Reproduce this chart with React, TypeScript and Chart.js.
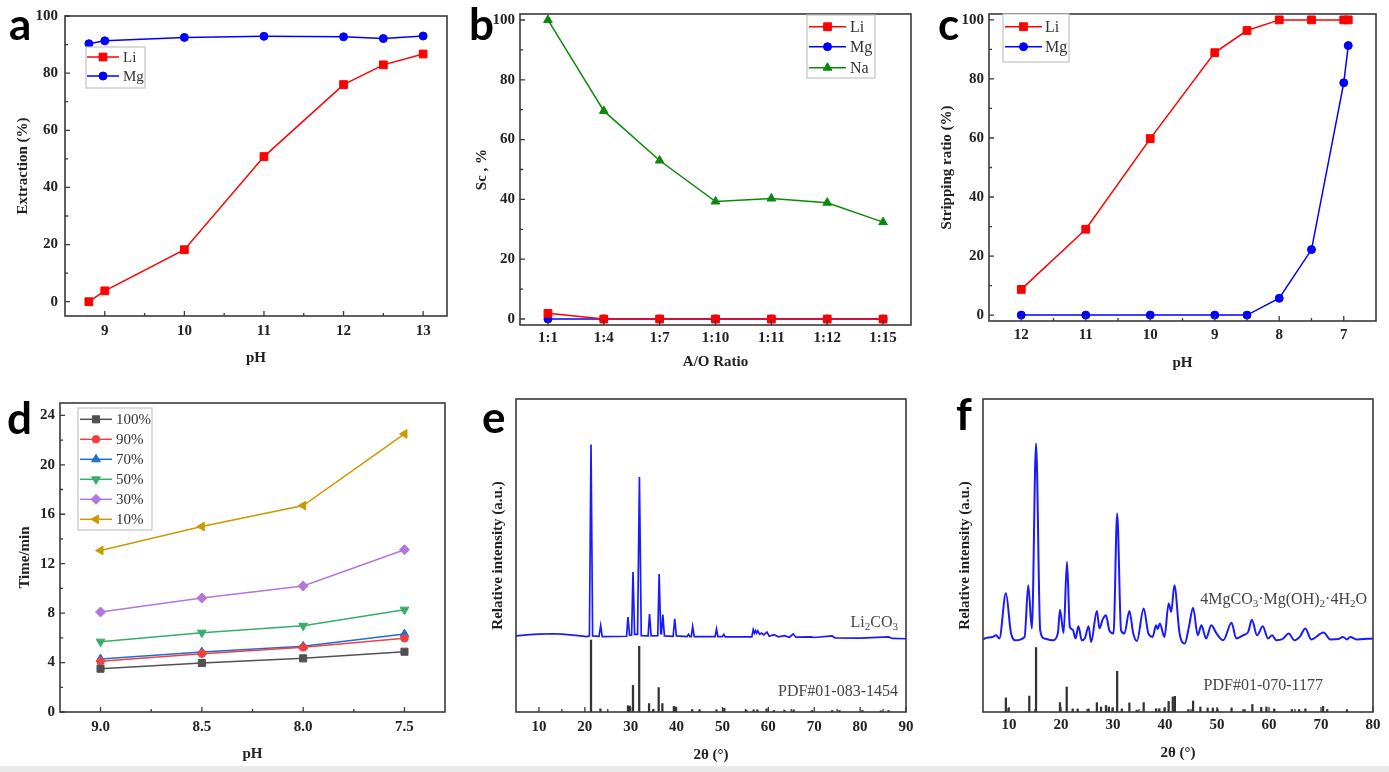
import React, { useEffect, useRef } from 'react';
import { Chart, registerables } from 'chart.js';
import { drawPoint } from 'chart.js/helpers';

Chart.register(...registerables);

// ---------------- DATA ----------------
// (a) extraction vs pH
const aPH = [8.8, 9, 10, 11, 12, 12.5, 13];
const aLi = [0, 3.8, 18.2, 50.8, 76, 82.9, 86.7];
const aMg = [90.3, 91.3, 92.5, 92.9, 92.7, 92.1, 93.0];
const aXTicks = [9, 10, 11, 12, 13];
const aXMinor = [9.5, 10.5, 11.5, 12.5];
const aYTicks = [0, 20, 40, 60, 80, 100];
const aYMinor = [10, 30, 50, 70, 90];

// (b) Sc vs A/O ratio
const bRatios = ['1:1', '1:4', '1:7', '1:10', '1:11', '1:12', '1:15'];
const bLi = [1.9, 0, 0, 0, 0, 0, 0];
const bMg = [0, 0, 0, 0, 0, 0, 0];
const bNa = [100, 69.6, 53.0, 39.3, 40.3, 38.9, 32.4];
const bYTicks = [0, 20, 40, 60, 80, 100];
const bYMinor = [10, 30, 50, 70, 90];

// (c) stripping ratio vs pH
const cPH = [12, 11, 10, 9, 8.5, 8, 7.5, 7, 6.93];
const cLi = [8.7, 29.1, 59.8, 88.9, 96.4, 100, 100, 100, 100];
const cMg = [0, 0, 0, 0, 0, 5.7, 22.2, 78.7, 91.3];
const cXTicks = [12, 11, 10, 9, 8, 7];
const cXMinor = [11.5, 10.5, 9.5, 8.5, 7.5];
const cYTicks = [0, 20, 40, 60, 80, 100];
const cYMinor = [10, 30, 50, 70, 90];

// (d) time vs pH
const dPH = [9.0, 8.5, 8.0, 7.5];
const d100 = [3.5, 3.96, 4.34, 4.88];
const d90 = [4.1, 4.72, 5.23, 5.96];
const d70 = [4.29, 4.85, 5.31, 6.31];
const d50 = [5.69, 6.42, 6.98, 8.28];
const d30 = [8.09, 9.22, 10.2, 13.13];
const d10 = [13.07, 15.0, 16.7, 22.5];
const dXTicks = [9.0, 8.5, 8.0, 7.5];
const dXMinor = [8.75, 8.25, 7.75];
const dYTicks = [0, 4, 8, 12, 16, 20, 24];
const dYMinor = [2, 6, 10, 14, 18, 22];

// (e) XRD Li2CO3 (trace vertices)
const eTraceX = [5, 8, 10, 13, 15, 18, 20.5, 21.0, 21.35, 21.7, 23.1, 23.45, 23.8, 29.1, 29.4, 29.75, 30.2, 30.5, 30.85, 31.5, 31.9, 32.3, 33.8, 34.1, 34.45, 35.9, 36.2, 36.55, 36.7, 37.0, 37.35, 39.25, 39.6, 39.95, 42.3, 42.6, 42.9, 43.2, 43.5, 43.85, 48.4, 48.7, 49.0, 50.0, 50.3, 50.6, 56.4, 56.7, 56.95, 57.2, 57.45, 57.7, 58.1, 58.5, 59.0, 59.7, 60.2, 61.2, 62.2, 63.5, 64.6, 65.4, 66.0, 69.4, 70, 73.9, 74.5, 80, 86.2, 87, 90];
const eTraceY = [24.3, 24.7, 24.9, 25.0, 24.9, 24.5, 24.1, 24.3, 85.5, 24.3, 24.2, 27.6, 24.1, 24.2, 30.3, 24.5, 24.6, 44.7, 24.8, 24.8, 75.1, 24.4, 24.3, 31.3, 24.3, 24.4, 44.1, 25.0, 25.0, 31.1, 24.3, 24.2, 29.8, 24.3, 24.1, 24.8, 24.1, 24.1, 27.3, 24.1, 24.1, 26.5, 24.1, 24.1, 24.8, 24.0, 24.0, 26.3, 25.2, 26.0, 25.2, 25.9, 24.8, 25.2, 24.6, 25.5, 24.2, 24.7, 24.0, 24.4, 23.9, 24.9, 23.9, 24.0, 23.8, 24.3, 23.7, 23.6, 24.0, 23.5, 23.4];
const eStickX = [21.35, 23.4, 29.4, 29.8, 30.5, 31.85, 34.0, 34.9, 36.1, 36.9, 39.4, 39.8, 43.4, 45.0, 48.7, 50.4, 55.2, 56.8, 57.6, 59.6, 61.2, 63.5, 65.5, 69.5, 73.9, 75.5, 80.5, 84.5, 86.2];
const eStickH = [23, 1, 2, 1.9, 8.5, 21, 2.7, 0.8, 7.8, 2.7, 1.8, 1.6, 0.8, 0.6, 0.7, 1.2, 0.6, 0.7, 0.7, 1.0, 0.5, 0.6, 0.7, 0.5, 0.5, 0.5, 0.5, 0.4, 0.5];
const eXTicks = [10, 20, 30, 40, 50, 60, 70, 80, 90];
const eXMinor = [15, 25, 35, 45, 55, 65, 75, 85];

// (f) XRD basic magnesium carbonate
const fTraceX = [5, 5.3, 6.9, 7.5, 8.15, 9.4, 10.4, 11.35, 13.0, 13.7, 14.4, 15.2, 16.0, 16.8, 18.4, 19.4, 19.8, 20.5, 21.15, 21.7, 22.25, 22.8, 23.35, 24.0, 24.6, 25.3, 25.8, 26.9, 27.4, 28.0, 28.65, 29.3, 30.1, 30.8, 31.55, 32.2, 33.15, 33.9, 34.6, 35.9, 36.8, 37.6, 38.3, 38.6, 39.0, 39.9, 40.7, 41.2, 41.8, 42.8, 43.8, 44.6, 45.4, 46.3, 47.0, 47.9, 48.9, 49.9, 51.2, 52.8, 53.7, 55.0, 56.0, 56.7, 57.7, 58.8, 59.8, 60.6, 61.4, 62.7, 63.8, 64.9, 65.9, 67.0, 68.1, 70.5, 71.8, 73.3, 74.2, 75.0, 75.6, 76.8, 80];
const fTraceY = [23.2, 23.5, 24.0, 24.5, 23.5, 37.9, 25.1, 22.9, 24.0, 40.5, 26.7, 85.8, 26.1, 23.5, 22.9, 25.2, 32.7, 25.2, 48.0, 27.2, 26.3, 23.5, 27.4, 22.9, 23.6, 27.4, 22.4, 32.3, 26.7, 29.5, 30.9, 26.1, 25.1, 63.4, 26.1, 25.1, 32.3, 25.1, 22.7, 33.1, 25.1, 24.0, 27.7, 26.5, 28.3, 24.0, 34.7, 32.0, 40.5, 25.1, 21.9, 27.2, 33.3, 24.5, 27.7, 23.5, 27.7, 25.1, 22.9, 28.5, 23.5, 24.5, 25.6, 29.5, 24.5, 27.4, 23.5, 24.5, 22.9, 23.4, 25.1, 22.9, 24.0, 26.7, 23.2, 25.4, 23.2, 23.3, 24.0, 23.2, 24.0, 23.2, 23.5];
const fStickX = [9.4, 9.9, 13.9, 15.2, 19.8, 21.1, 22.25, 23.2, 25.3, 26.9, 27.7, 28.65, 29.2, 29.9, 30.8, 31.7, 33.15, 34.55, 35.9, 38.3, 38.9, 39.9, 40.7, 41.5, 41.9, 44.5, 45.4, 46.8, 48.2, 49.2, 50.1, 52.8, 55.3, 56.8, 58.5, 59.5, 61.0, 64.4, 65.8, 67.0, 70.4, 71.2, 75.0];
const fStickH = [4.5, 1.2, 5.1, 20.6, 3.0, 8.0, 1.0, 1.0, 1.0, 3.0, 1.6, 2.1, 1.6, 1.3, 13.0, 1.0, 2.9, 0.6, 3.0, 1.05, 1.05, 1.3, 3.4, 4.8, 5.0, 0.8, 3.5, 1.6, 1.3, 1.3, 1.0, 1.3, 0.8, 2.4, 1.5, 1.6, 1.0, 0.8, 0.8, 1.0, 1.8, 0.8, 0.6];
const fXTicks = [10, 20, 30, 40, 50, 60, 70, 80];
const fXMinor = [15, 25, 35, 45, 55, 65, 75];

// ---------------- STYLE ----------------
const SERIF = '"Liberation Serif", "Times New Roman", serif';
const TXT = '#222';
const FRAME = '#3a3a3a';
const tickFont: any = { family: SERIF, size: 15, weight: 'bold' };

const framePlugin = {
  id: 'frame',
  afterDatasetsDraw(chart: any) {
    const o = chart.options.plugins.frame || {};
    const { ctx, chartArea: ca } = chart;
    const xs = chart.scales.x;
    const ys = chart.scales.y;
    ctx.save();
    ctx.strokeStyle = FRAME;
    ctx.lineWidth = 1.3;
    ctx.beginPath();
    xs.ticks.forEach((_t: any, i: number) => {
      const p = xs.getPixelForTick(i);
      ctx.moveTo(p, ca.bottom);
      ctx.lineTo(p, ca.bottom - 5);
    });
    (o.xMinor || []).forEach((v: number) => {
      const p = xs.getPixelForValue(v);
      ctx.moveTo(p, ca.bottom);
      ctx.lineTo(p, ca.bottom - 3);
    });
    if (o.yMajor !== false) {
      ys.ticks.forEach((_t: any, i: number) => {
        const p = ys.getPixelForTick(i);
        ctx.moveTo(ca.left, p);
        ctx.lineTo(ca.left + 5, p);
      });
    }
    (o.yMinor || []).forEach((v: number) => {
      const p = ys.getPixelForValue(v);
      ctx.moveTo(ca.left, p);
      ctx.lineTo(ca.left + 3, p);
    });
    ctx.stroke();
    ctx.lineWidth = 1.6;
    ctx.strokeRect(ca.left, ca.top, ca.right - ca.left, ca.bottom - ca.top);
    ctx.restore();
  },
};

const boxLegendPlugin = {
  id: 'boxLegend',
  afterDraw(chart: any) {
    const o = chart.options.plugins.boxLegend;
    if (!o) return;
    const ctx = chart.ctx;
    ctx.save();
    ctx.fillStyle = '#fff';
    ctx.fillRect(o.x, o.y, o.w, o.h);
    ctx.strokeStyle = '#c4c4c4';
    ctx.lineWidth = 1.2;
    ctx.strokeRect(o.x, o.y, o.w, o.h);
    chart.data.datasets.forEach((ds: any, i: number) => {
      const y = o.rows[i];
      ctx.strokeStyle = ds.borderColor;
      ctx.lineWidth = ds.borderWidth;
      ctx.beginPath();
      ctx.moveTo(o.lx1, y);
      ctx.lineTo(o.lx2, y);
      ctx.stroke();
      ctx.fillStyle = ds.pointBackgroundColor;
      ctx.strokeStyle = ds.pointBorderColor;
      ctx.lineWidth = 1;
      drawPoint(ctx, { pointStyle: ds.pointStyle, rotation: ds.pointRotation || 0, radius: ds.pointRadius, borderWidth: 1 } as any, (o.lx1 + o.lx2) / 2, y);
      ctx.fillStyle = '#333';
      ctx.font = `${o.size || 15}px ${SERIF}`;
      ctx.textBaseline = 'middle';
      ctx.textAlign = 'left';
      ctx.fillText(ds.label, o.tx, y + 1);
    });
    ctx.restore();
  },
};

function series(label: string, xs: number[], ys: number[], color: string, style: string, radius: number, rotation = 0) {
  return {
    label,
    data: xs.map((x, i) => ({ x, y: ys[i] })),
    borderColor: color,
    backgroundColor: color,
    pointBackgroundColor: color,
    pointBorderColor: color,
    borderWidth: 1.5,
    pointStyle: style,
    pointRadius: radius,
    pointRotation: rotation,
    pointBorderWidth: 1,
    tension: 0,
  };
}

function xAxis(opts: any) {
  const ticks: any = { font: tickFont, color: TXT, padding: opts.pad, maxRotation: 0, autoSkip: false };
  if (opts.fmt) ticks.callback = opts.fmt;
  const ax: any = {
    type: opts.type || 'linear',
    offset: opts.offset ?? false,
    afterFit: (s: any) => { s.height = opts.height; },
    grid: { display: false, drawTicks: false },
    border: { display: false },
    ticks,
    title: { display: true, text: opts.title, font: tickFont, color: TXT, padding: { top: 0, bottom: opts.titlePad } },
  };
  if (opts.min !== undefined) ax.min = opts.min;
  if (opts.max !== undefined) ax.max = opts.max;
  if (opts.reverse) ax.reverse = true;
  if (opts.ticks) ax.afterBuildTicks = (s: any) => { s.ticks = opts.ticks.map((v: number) => ({ value: v })); };
  return ax;
}

function yAxis(opts: any) {
  const ax: any = {
    type: 'linear',
    min: opts.min,
    max: opts.max,
    afterFit: (s: any) => { s.width = opts.width; },
    grid: { display: false, drawTicks: false },
    border: { display: false },
    ticks: { display: opts.showTicks !== false, font: tickFont, color: TXT, padding: opts.pad ?? 6 },
    title: { display: true, text: opts.title, font: tickFont, color: TXT, padding: { top: opts.titlePad, bottom: 0 } },
  };
  if (opts.ticks) ax.afterBuildTicks = (s: any) => { s.ticks = opts.ticks.map((v: number) => ({ value: v })); };
  return ax;
}

function baseOptions(padTop: number, padRight: number, x: any, y: any, plugins: any) {
  return {
    responsive: false,
    animation: false,
    devicePixelRatio: 1,
    layout: { padding: { top: padTop, right: padRight, left: 0, bottom: 0 } },
    plugins: { legend: { display: false }, tooltip: { enabled: false }, ...plugins },
    scales: { x, y },
  };
}

// ---------------- CONFIGS ----------------
const RED = '#ff0000';
const BLUE = '#0000ff';
const GREEN = '#0a8a0a';

function cfgA(): any {
  return {
    type: 'line',
    data: { datasets: [series('Li', aPH, aLi, RED, 'rect', 5.5), series('Mg', aPH, aMg, BLUE, 'circle', 4)] },
    options: baseOptions(9, 13,
      xAxis({ min: 8.5, max: 13.3, ticks: aXTicks, height: 64, pad: 6, title: 'pH', titlePad: 13 }),
      yAxis({ min: -5, max: 100, ticks: aYTicks, width: 65, pad: 7, title: 'Extraction (%)', titlePad: 14 }),
      { frame: { xMinor: aXMinor, yMinor: aYMinor }, boxLegend: { x: 86, y: 47, w: 59, h: 41, rows: [57, 76], lx1: 87, lx2: 119, tx: 123, size: 15 } }),
    plugins: [framePlugin, boxLegendPlugin],
  };
}

function cfgB(): any {
  const mk = (label: string, vals: number[], color: string, style: string, r: number) => ({
    label, data: vals, borderColor: color, backgroundColor: color, pointBackgroundColor: color, pointBorderColor: color,
    borderWidth: 1.5, pointStyle: style, pointRadius: r, pointBorderWidth: 1, tension: 0,
  });
  return {
    type: 'line',
    data: { labels: bRatios, datasets: [mk('Li', bLi, RED, 'rect', 5.5), mk('Mg', bMg, BLUE, 'circle', 4), mk('Na', bNa, GREEN, 'triangle', 5)] },
    options: baseOptions(10, 9,
      xAxis({ type: 'category', offset: true, height: 55, pad: 4, title: 'A/O Ratio', titlePad: 9 }),
      yAxis({ min: -2, max: 102, ticks: bYTicks, width: 60, pad: 5, title: 'Sc , %', titlePad: 13 }),
      { frame: { yMinor: bYMinor }, boxLegend: { x: 347, y: 15, w: 68, h: 63, rows: [26.7, 46.7, 67.7], lx1: 349, lx2: 386, tx: 390, size: 16 } }),
    plugins: [framePlugin, boxLegendPlugin],
  };
}

function cfgC(): any {
  return {
    type: 'line',
    data: { datasets: [series('Li', cPH, cLi, RED, 'rect', 5.5), series('Mg', cPH, cMg, BLUE, 'circle', 4)] },
    options: baseOptions(10, 13,
      xAxis({ min: 6.5, max: 12.5, reverse: true, ticks: cXTicks, height: 59, pad: 5, title: 'pH', titlePad: 8 }),
      yAxis({ min: -2, max: 102, ticks: cYTicks, width: 69, pad: 5, title: 'Stripping ratio (%)', titlePad: 18 }),
      { frame: { xMinor: cXMinor, yMinor: cYMinor }, boxLegend: { x: 83, y: 14, w: 66, h: 48, rows: [26.7, 46.7], lx1: 85, lx2: 122, tx: 125, size: 16 } }),
    plugins: [framePlugin, boxLegendPlugin],
  };
}

function cfgD(): any {
  return {
    type: 'line',
    data: {
      datasets: [
        series('100%', dPH, d100, '#515151', 'rect', 5),
        series('90%', dPH, d90, '#F14040', 'circle', 3.8),
        series('70%', dPH, d70, '#1A6FDF', 'triangle', 5),
        series('50%', dPH, d50, '#37AD6B', 'triangle', 5, 180),
        series('30%', dPH, d30, '#B177DE', 'rectRot', 5),
        series('10%', dPH, d10, '#CC9900', 'triangle', 5, 270),
      ],
    },
    options: baseOptions(23, 15,
      xAxis({ min: 7.3, max: 9.2, reverse: true, ticks: dXTicks, height: 54, pad: 6, title: 'pH', titlePad: 3, fmt: (v: any) => Number(v).toFixed(1) }),
      yAxis({ min: 0, max: 25, ticks: dYTicks, width: 60, pad: 5, title: 'Time/min', titlePad: 16 }),
      { frame: { xMinor: dXMinor, yMinor: dYMinor }, boxLegend: { x: 78, y: 28, w: 74, h: 122, rows: [39.3, 59.3, 79.3, 99.3, 119.3, 139.3], lx1: 80, lx2: 112, tx: 116, size: 15 } }),
    plugins: [framePlugin, boxLegendPlugin],
  };
}

function xrdConfig(tx: number[], ty: number[], sx: number[], sh: number[], xmax: number, ticks: number[], minor: number[], yWidth: number, padRight: number, xTitlePad: number, yTitlePad: number, xPad: number, smooth: boolean): any {
  const trace: any = { type: 'line', data: tx.map((x, i) => ({ x, y: ty[i] })), borderColor: '#1a1aff', borderWidth: smooth ? 2 : 1.7, pointRadius: 0, tension: 0 };
  if (smooth) trace.cubicInterpolationMode = 'monotone';
  return {
    type: 'line',
    data: {
      datasets: [
        trace,
        { type: 'bar', data: sx.map((x, i) => ({ x, y: sh[i] })), backgroundColor: '#333', barThickness: 1.6, borderWidth: 0 },
      ],
    },
    options: baseOptions(19, padRight,
      xAxis({ min: 5, max: xmax, ticks, height: 54, pad: xPad, title: '2θ (°)', titlePad: xTitlePad }),
      yAxis({ min: 0, max: 100, width: yWidth, showTicks: false, title: 'Relative intensity (a.u.)', titlePad: yTitlePad }),
      { frame: { xMinor: minor, yMajor: false } }),
    plugins: [framePlugin],
  };
}

function cfgE(): any { return xrdConfig(eTraceX, eTraceY, eStickX, eStickH, 90, eXTicks, eXMinor, 56, 14, 2, 29, 6, false); }
function cfgF(): any { return xrdConfig(fTraceX, fTraceY, fStickX, fStickH, 80, fXTicks, fXMinor, 63, 16, 4, 36, 4, true); }

function ChartPanel({ left, top, width, height, build }: any) {
  const ref = useRef<HTMLCanvasElement>(null);
  useEffect(() => {
    const chart = new Chart(ref.current as HTMLCanvasElement, build());
    return () => chart.destroy();
  }, []);
  return <canvas ref={ref} width={width} height={height} style={{ position: 'absolute', left, top, width, height }} />;
}

const letterStyle: any = { position: 'absolute', fontFamily: 'Lato, "Liberation Sans", sans-serif', fontWeight: 700, fontSize: 44, lineHeight: '44px', color: '#000' };
const noteStyle: any = { position: 'absolute', fontFamily: SERIF, fontSize: 16, lineHeight: '18px', color: '#444', whiteSpace: 'nowrap' };
const subStyle: any = { fontSize: 11, verticalAlign: '-3px', lineHeight: 0 };

export default function App() {
  return (
    <div style={{ position: 'fixed', left: 0, top: 0, width: 1389, height: 772, background: '#fff', overflow: 'hidden' }}>
      <ChartPanel left={0} top={0} width={460} height={380} build={cfgA} />
      <ChartPanel left={460} top={0} width={460} height={380} build={cfgB} />
      <ChartPanel left={920} top={0} width={469} height={380} build={cfgC} />
      <ChartPanel left={0} top={380} width={460} height={386} build={cfgD} />
      <ChartPanel left={460} top={380} width={460} height={386} build={cfgE} />
      <ChartPanel left={920} top={380} width={469} height={386} build={cfgF} />
      <div style={{ ...letterStyle, left: 9, top: 1 }}>a</div>
      <div style={{ ...letterStyle, left: 469, top: 1 }}>b</div>
      <div style={{ ...letterStyle, left: 938, top: 1 }}>c</div>
      <div style={{ ...letterStyle, left: 7, top: 395 }}>d</div>
      <div style={{ ...letterStyle, left: 482, top: 394 }}>e</div>
      <div style={{ ...letterStyle, left: 956, top: 391 }}>f</div>
      <div style={{ ...noteStyle, right: 491, top: 613 }}>Li<sub style={subStyle}>2</sub>CO<sub style={subStyle}>3</sub></div>
      <div style={{ ...noteStyle, right: 491, top: 682 }}>PDF#01-083-1454</div>
      <div style={{ ...noteStyle, right: 22, top: 590 }}>4MgCO<sub style={subStyle}>3</sub>·Mg(OH)<sub style={subStyle}>2</sub>·4H<sub style={subStyle}>2</sub>O</div>
      <div style={{ ...noteStyle, right: 66, top: 676 }}>PDF#01-070-1177</div>
      <div style={{ position: 'absolute', left: 0, top: 766, width: 1389, height: 6, background: '#e9e9e9' }} />
    </div>
  );
}
